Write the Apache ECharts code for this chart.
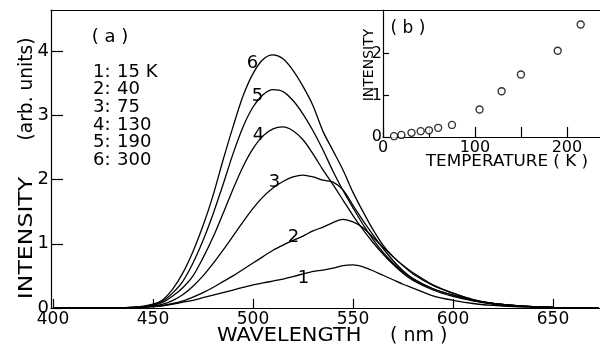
<!DOCTYPE html>
<html><head><meta charset="utf-8">
<script src="https://cdn.jsdelivr.net/npm/echarts@6/dist/echarts.min.js"></script>
<style>html,body{margin:0;padding:0;background:#fff}#c{width:600px;height:345px}</style>
</head><body><div id="c"></div>
<script>
// ---- data ----
const wavelength = [400,430,440,445,450,455,460,465,470,475,480,485,490,495,500,505,510,515,520,525,530,535,540,545,550,555,560,565,570,575,580,590,600,610,620,630,640,650,673];
const curve1 = [0,0,0.005,0.01,0.02,0.035,0.06,0.09,0.12,0.16,0.2,0.24,0.28,0.32,0.36,0.39,0.42,0.45,0.49,0.53,0.57,0.59,0.62,0.66,0.67,0.64,0.58,0.51,0.44,0.37,0.31,0.19,0.12,0.07,0.04,0.02,0.01,0,0];
const curve2 = [0,0,0.005,0.01,0.02,0.04,0.07,0.11,0.17,0.24,0.32,0.41,0.5,0.6,0.7,0.8,0.9,0.98,1.05,1.12,1.2,1.26,1.33,1.38,1.34,1.25,1.1,0.95,0.8,0.66,0.53,0.35,0.23,0.13,0.07,0.04,0.02,0.01,0];
const curve3 = [0,0,0.01,0.015,0.03,0.06,0.12,0.21,0.34,0.5,0.69,0.9,1.12,1.34,1.55,1.73,1.87,1.97,2.04,2.07,2.04,1.99,1.96,1.84,1.6,1.36,1.14,0.93,0.74,0.58,0.46,0.3,0.2,0.12,0.07,0.04,0.02,0.01,0];
const curve4 = [0,0,0.01,0.02,0.04,0.09,0.19,0.32,0.5,0.78,1.1,1.47,1.85,2.2,2.48,2.68,2.79,2.82,2.76,2.62,2.4,2.15,1.92,1.68,1.44,1.22,1.02,0.84,0.68,0.54,0.43,0.28,0.18,0.11,0.06,0.03,0.02,0.01,0];
const curve5 = [0,0,0.01,0.02,0.05,0.11,0.24,0.42,0.7,1.05,1.46,1.92,2.4,2.82,3.13,3.32,3.4,3.37,3.23,3.02,2.76,2.46,2.13,1.83,1.56,1.3,1.07,0.87,0.7,0.56,0.45,0.3,0.2,0.12,0.07,0.04,0.02,0.01,0];
const curve6 = [0,0,0.01,0.03,0.06,0.13,0.3,0.55,0.88,1.28,1.75,2.3,2.82,3.3,3.65,3.87,3.94,3.88,3.7,3.45,3.15,2.75,2.45,2.15,1.8,1.5,1.22,0.98,0.8,0.66,0.55,0.36,0.23,0.13,0.07,0.04,0.02,0.01,0];
const curveNames = ['1','2','3','4','5','6'];
const curveLabelWl = [525.5, 520.5, 511, 503, 502.5, 500];
const curveLabelI  = [0.45, 1.1, 1.95, 2.68, 3.29, 3.8];
const legendIdx = ['1:','2:','3:','4:','5:','6:'];
const legendTemp = ['15 K','40','75','130','190','300'];
const xTicksMain = [400,450,500,550,600,650];
const yTicksMain = [0,1,2,3,4];
const tempK = [12,20,31,41,50,60,75,105,129,150,190,215];
const intensityB = [0.02,0.05,0.1,0.14,0.16,0.22,0.29,0.66,1.1,1.5,2.07,2.7];
const xTicksInset = [0,50,100,150,200];
const xLabelsInset = [0,100,200];
const yTicksInset = [0,1,2];

const curves = [curve1,curve2,curve3,curve4,curve5,curve6];
const FONT = 'DejaVu Sans';
const axisLineStyle = {color:'#000', width:1.2};

const chart = echarts.init(document.getElementById('c'), null, {renderer:'canvas'});
const series = curves.map((c,k)=>({
  type:'line', xAxisIndex:0, yAxisIndex:0, smooth:0.3, symbol:'none',
  lineStyle:{color:'#000', width:1.3}, data: wavelength.map((w,i)=>[w,c[i]]), z:2, silent:true
}));
series.push({
  type:'scatter', xAxisIndex:0, yAxisIndex:0, symbolSize:1, itemStyle:{opacity:0},
  data: curveNames.map((n,i)=>({name:n, value:[curveLabelWl[i], curveLabelI[i]]})),
  label:{show:true, position:[0,0], align:'center', verticalAlign:'middle', formatter:'{b}', color:'#000',
         textBorderWidth:0, fontFamily:FONT, fontSize:18, opacity:1}, z:3, silent:true
});
series.push({
  type:'scatter', xAxisIndex:1, yAxisIndex:1, symbol:'circle', symbolSize:7,
  itemStyle:{color:'#fff', borderColor:'#000', borderWidth:1.4},
  data: tempK.map((t,i)=>[t,intensityB[i]]), silent:true
});

const option = {
  animation:false,
  backgroundColor:'#fff',
  grid:[
    {left:51, top:10, right:0, bottom:37},
    {left:383, top:10, right:0, height:127}
  ],
  xAxis:[
    {type:'value', gridIndex:0, min:399, max:673.5, position:'bottom',
     axisLine:{lineStyle:axisLineStyle}, splitLine:{show:false},
     axisTick:{inside:true, length:9, customValues:xTicksMain, lineStyle:axisLineStyle},
     axisLabel:{customValues:xTicksMain, color:'#000', fontFamily:FONT, fontSize:17, margin:3}},
    {type:'value', gridIndex:1, min:0, max:236,
     axisLine:{lineStyle:axisLineStyle}, splitLine:{show:false},
     axisTick:{inside:true, length:10, customValues:xTicksInset, lineStyle:axisLineStyle},
     axisLabel:{customValues:xLabelsInset, color:'#000', fontFamily:FONT, fontSize:16, margin:3}},
    {type:'value', gridIndex:0, min:399, max:673.5, position:'top',
     axisLine:{lineStyle:axisLineStyle}, axisTick:{show:false}, axisLabel:{show:false}, splitLine:{show:false}}
  ],
  yAxis:[
    {type:'value', gridIndex:0, min:0, max:4.64,
     axisLine:{show:true, lineStyle:axisLineStyle}, splitLine:{show:false},
     axisTick:{show:true, inside:true, length:12, customValues:yTicksMain, lineStyle:axisLineStyle},
     axisLabel:{customValues:yTicksMain, color:'#000', fontFamily:FONT, fontSize:18, margin:2}},
    {type:'value', gridIndex:1, min:0, max:3.05,
     axisLine:{show:true, lineStyle:axisLineStyle}, splitLine:{show:false},
     axisTick:{show:true, inside:true, length:6, customValues:yTicksInset, lineStyle:axisLineStyle},
     axisLabel:{customValues:yTicksInset, color:'#000', fontFamily:FONT, fontSize:16, margin:1}}
  ],
  series: series,
  graphic:[
    {type:'text', x:27, y:89, rotation:Math.PI/2, scaleX:0.93, style:{text:'(arb. units)', fontFamily:FONT, fontSize:20, fill:'#000', align:'center', verticalAlign:'middle'}},
    {type:'text', x:27, y:238, rotation:Math.PI/2, scaleX:1.18, style:{text:'INTENSITY', fontFamily:FONT, fontSize:20, fill:'#000', align:'center', verticalAlign:'middle'}},
    {type:'text', x:217, y:336, scaleX:1.1, style:{text:'WAVELENGTH', fontFamily:FONT, fontSize:19, fill:'#000', align:'left', verticalAlign:'middle'}},
    {type:'text', x:390, y:336, style:{text:'( nm )', fontFamily:FONT, fontSize:19, fill:'#000', align:'left', verticalAlign:'middle'}},
    {type:'text', x:110, y:37, style:{text:'( a )', fontFamily:FONT, fontSize:18, fill:'#000', align:'center', verticalAlign:'middle'}},
    {type:'text', x:93, y:63, style:{text:legendIdx.join('\n'), fontFamily:FONT, fontSize:18, lineHeight:17.7, fill:'#000', align:'left', verticalAlign:'top'}},
    {type:'text', x:117, y:63, style:{text:legendTemp.join('\n'), fontFamily:FONT, fontSize:18, lineHeight:17.7, fill:'#000', align:'left', verticalAlign:'top'}},
    {type:'text', x:408, y:29, style:{text:'( b )', fontFamily:FONT, fontSize:17, fill:'#000', align:'center', verticalAlign:'middle'}},
    {type:'text', x:369, y:65, rotation:Math.PI/2, style:{text:'INTENSITY', fontFamily:FONT, fontSize:14, fill:'#000', align:'center', verticalAlign:'middle'}},
    {type:'text', x:507, y:162, scaleX:1.05, style:{text:'TEMPERATURE ( K )', fontFamily:FONT, fontSize:16, fill:'#000', align:'center', verticalAlign:'middle'}}
  ]
};
chart.setOption(option);
</script></body></html>
